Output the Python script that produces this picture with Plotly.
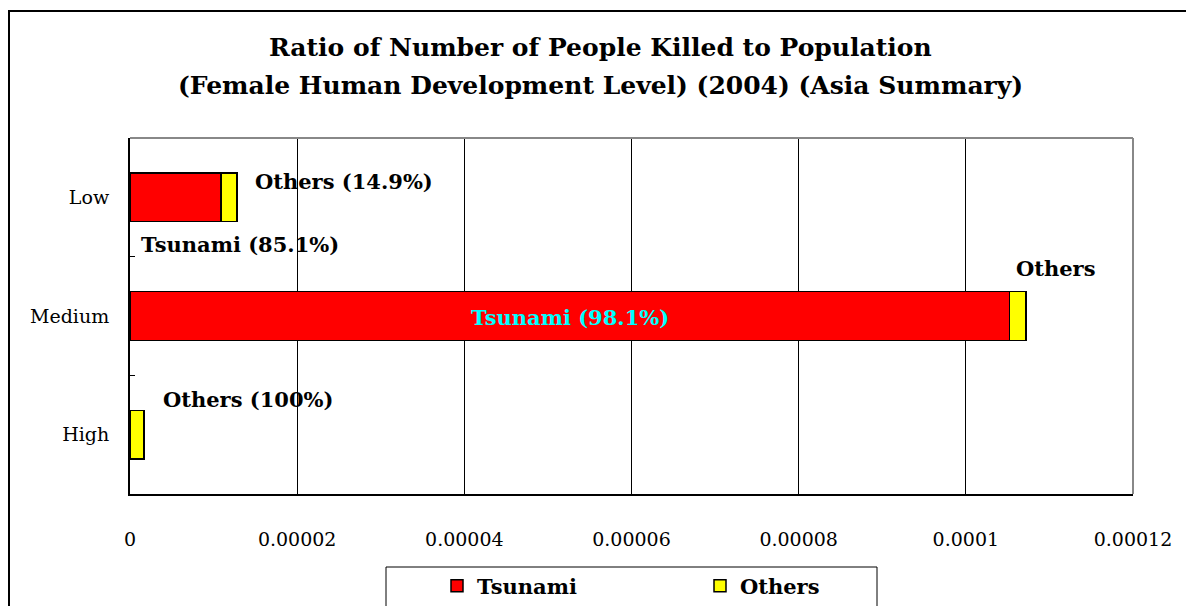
import plotly.graph_objects as go

categories = ["Low", "Medium", "High"]
tsunami = [1.09e-05, 1.052e-04, 0.0]
others = [1.9e-06, 2.0e-06, 1.7e-06]
x_ticks = [0, 0.00002, 0.00004, 0.00006, 0.00008, 0.0001, 0.00012]
x_tick_labels = ["0", "0.00002", "0.00004", "0.00006", "0.00008", "0.0001", "0.00012"]

title_lines = ["Ratio of Number of People Killed to Population",
               "(Female Human Development Level) (2004) (Asia Summary)"]

W, H = 1186, 606
L, R, T, B = 130, 1133, 138, 494
SERIF = "DejaVu Serif"

def px(x):
    return (x - L) / (R - L)

def py(y):
    return (B - y) / (B - T)

fig = go.Figure()
fig.add_trace(go.Bar(y=categories, x=tsunami, name="Tsunami", orientation="h",
                     marker=dict(color="#ff0000", line=dict(color="black", width=1.5)),
                     width=0.41))
fig.add_trace(go.Bar(y=categories, x=others, name="Others", orientation="h",
                     marker=dict(color="#ffff00", line=dict(color="black", width=1.5)),
                     width=0.41))

ann = []
for line, yy in zip(title_lines, [48, 85]):
    ann.append(dict(text="<b>" + line + "</b>",
                    x=px(600), y=py(yy), xref="paper", yref="paper", showarrow=False,
                    font=dict(family=SERIF, size=25, color="black"),
                    xanchor="center", yanchor="middle"))

def lab(text, x, y, color="black", anchor="left"):
    ann.append(dict(text="<b>" + text + "</b>", x=px(x), y=py(y), xref="paper", yref="paper",
                    showarrow=False, font=dict(family=SERIF, size=21, color=color),
                    xanchor=anchor, yanchor="middle"))

lab("Others (14.9%)", 253, 181)
lab("Tsunami (85.1%)", 139, 244)
lab("Tsunami (98.1%)", 570, 317, color="#00ffff", anchor="center")
lab("Others", 1014, 268)
lab("Others (100%)", 161, 399)

shapes = [
    dict(type="rect", xref="paper", yref="paper", x0=px(9), x1=px(1240), y0=py(11), y1=py(700),
         line=dict(color="black", width=2), layer="below"),
    dict(type="line", xref="paper", yref="paper", x0=0, x1=1, y0=1, y1=1,
         line=dict(color="#888888", width=2)),
    dict(type="line", xref="paper", yref="paper", x0=1, x1=1, y0=0, y1=1,
         line=dict(color="#888888", width=2)),
    dict(type="rect", xref="paper", yref="paper", x0=px(386), x1=px(877), y0=py(567), y1=py(640),
         line=dict(color="black", width=1), fillcolor="white", layer="below"),
]

fig.update_layout(
    width=W, height=H,
    margin=dict(l=L, r=W - R, t=T, b=H - B, pad=0, autoexpand=False),
    paper_bgcolor="white", plot_bgcolor="white",
    barmode="stack",
    showlegend=True,
    legend=dict(orientation="h", x=px(437), y=py(586), xanchor="left", yanchor="middle",
                font=dict(family=SERIF, size=21, color="black", weight="bold"),
                bgcolor="rgba(0,0,0,0)", traceorder="normal",
                entrywidth=218, entrywidthmode="pixels"),
    xaxis=dict(range=[0, 0.00012], tickvals=x_ticks, ticktext=x_tick_labels,
               showgrid=True, gridcolor="black", gridwidth=1,
               showline=True, linecolor="black", linewidth=2,
               ticks="", zeroline=False, ticklabelstandoff=27,
               tickfont=dict(family=SERIF, size=19, color="black")),
    yaxis=dict(categoryorder="array", categoryarray=categories, autorange="reversed",
               showline=True, linecolor="black", linewidth=2,
               ticks="inside", ticklen=5, tickcolor="black", tickson="boundaries",
               showgrid=False, zeroline=False, ticklabelstandoff=15,
               tickfont=dict(family=SERIF, size=19, color="black")),
    annotations=ann,
    shapes=shapes,
)

fig.write_html("out.html", config={"displayModeBar": False},
               post_script="document.body.style.margin='0';")
